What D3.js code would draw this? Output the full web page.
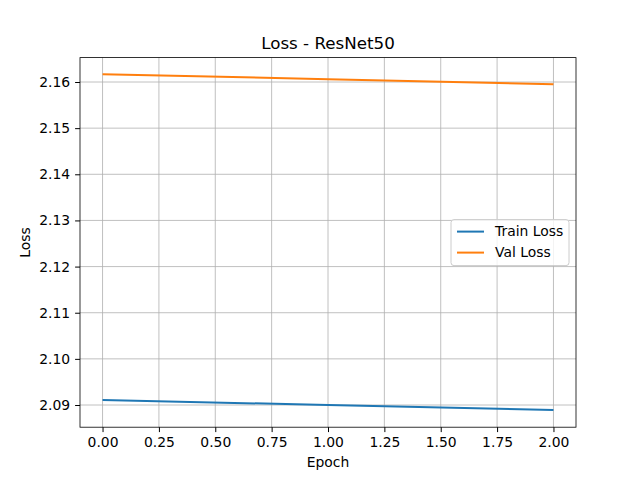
<!DOCTYPE html>
<html><head><meta charset="utf-8">
<script src="https://cdn.jsdelivr.net/npm/d3@7"></script>
<style>body{margin:0;background:#fff}text{font-family:"DejaVu Sans",sans-serif}</style>
</head><body><div id="chart"></div>
<script>
// data
var epochs = [0, 1, 2];
var trainLoss = [2.0911, 2.0900, 2.0889];
var valLoss = [2.1617, 2.1606, 2.1595];
var xTicks = [0, 0.25, 0.5, 0.75, 1, 1.25, 1.5, 1.75, 2];
var yTicks = [2.09, 2.10, 2.11, 2.12, 2.13, 2.14, 2.15, 2.16];

var margin = {top: 57.6, right: 64, bottom: 52.8, left: 80},
    width = 640 - margin.left - margin.right,
    height = 480 - margin.top - margin.bottom;

var svg = d3.select("#chart").append("svg")
    .attr("width", 640).attr("height", 480)
  .append("g")
    .attr("transform", "translate(" + margin.left + "," + margin.top + ")");

var x = d3.scaleLinear().domain([-0.1, 2.1]).range([0, width]);
var y = d3.scaleLinear().domain([2.08519, 2.16529]).range([height, 0]);

// grid
svg.append("g").selectAll("line").data(xTicks).enter().append("line")
  .attr("x1", d => x(d)).attr("x2", d => x(d)).attr("y1", 0).attr("y2", height)
  .attr("stroke", "#b0b0b0").attr("stroke-width", 0.8);
svg.append("g").selectAll("line").data(yTicks).enter().append("line")
  .attr("y1", d => y(d)).attr("y2", d => y(d)).attr("x1", 0).attr("x2", width)
  .attr("stroke", "#b0b0b0").attr("stroke-width", 0.8);

var xa = svg.append("g").attr("transform", "translate(0," + height + ")")
  .call(d3.axisBottom(x).tickValues(xTicks).tickFormat(d3.format(".2f")).tickSize(4.9).tickPadding(4.9).tickSizeOuter(0));
var ya = svg.append("g")
  .call(d3.axisLeft(y).tickValues(yTicks).tickFormat(d3.format(".2f")).tickSize(4.9).tickPadding(4.9).tickSizeOuter(0));
[xa, ya].forEach(function(a) {
  a.selectAll("text").style("font-size", "13.9px").attr("fill", "#000");
  a.select(".domain").remove();
});

svg.append("rect").attr("width", width).attr("height", height)
  .attr("fill", "none").attr("stroke", "#000").attr("stroke-width", 0.8);

var line = function(vals) {
  return d3.line().x((d, i) => x(epochs[i])).y(d => y(d))(vals);
};
svg.append("path").attr("d", line(trainLoss)).attr("fill", "none").attr("stroke", "#1f77b4").attr("stroke-width", 2);
svg.append("path").attr("d", line(valLoss)).attr("fill", "none").attr("stroke", "#ff7f0e").attr("stroke-width", 2);

svg.append("text").attr("x", width / 2).attr("y", -9).attr("text-anchor", "middle")
  .style("font-size", "16.7px").text("Loss - ResNet50");
svg.append("text").attr("x", width / 2).attr("y", height + 40).attr("text-anchor", "middle")
  .style("font-size", "13.9px").text("Epoch");
svg.append("text").attr("transform", "translate(-50," + height / 2 + ") rotate(-90)")
  .attr("text-anchor", "middle").style("font-size", "13.9px").text("Loss");

// legend
var lg = svg.append("g").attr("transform", "translate(371,162)");
lg.append("rect").attr("width", 118).attr("height", 46).attr("rx", 3)
  .attr("fill", "#fff").attr("fill-opacity", 0.8).attr("stroke", "#ccc");
[["Train Loss", "#1f77b4"], ["Val Loss", "#ff7f0e"]].forEach(function(d, i) {
  var yy = 12 + i * 21;
  lg.append("line").attr("x1", 6).attr("x2", 33).attr("y1", yy).attr("y2", yy)
    .attr("stroke", d[1]).attr("stroke-width", 2);
  lg.append("text").attr("x", 44).attr("y", yy).attr("dy", "0.35em")
    .style("font-size", "13.9px").text(d[0]);
});
</script></body></html>
